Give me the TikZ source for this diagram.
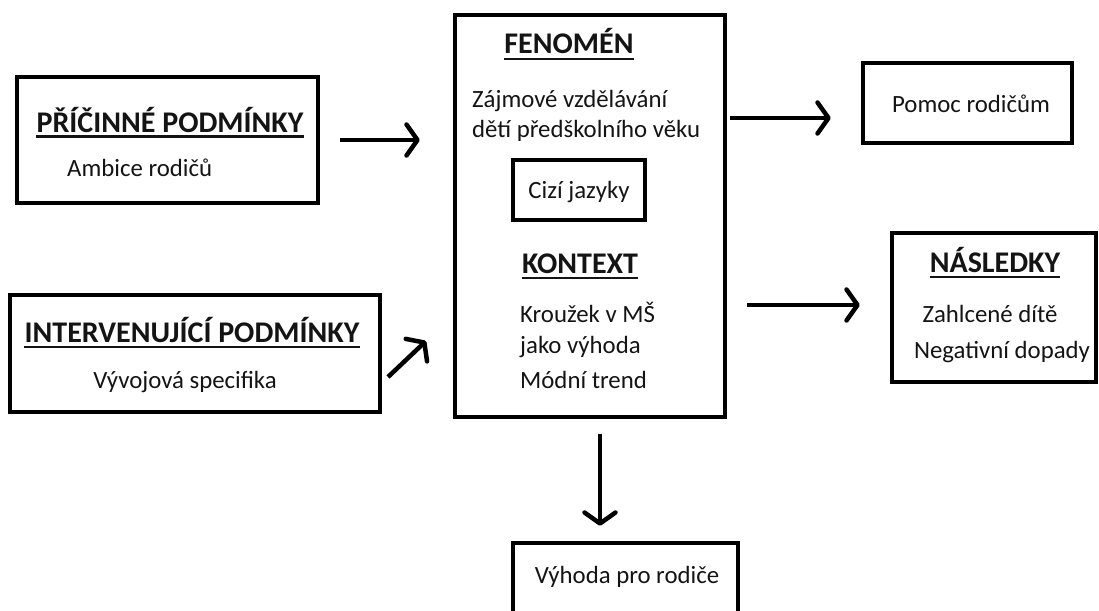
\documentclass[tikz,border=0pt]{standalone}
\usepackage{fontspec}
\setmainfont{Carlito}
\usetikzlibrary{arrows.meta}
\definecolor{ink}{RGB}{20,20,20}
\begin{document}
\begin{tikzpicture}[x=1pt,y=-1pt,
  box/.style={draw=black,line width=4.5pt,inner sep=0pt,fill=white},
  ttl/.style={inner sep=0pt,anchor=base,text=ink,font=\fontsize{30}{35}\selectfont\bfseries},
  txt/.style={inner sep=0pt,anchor=base,text=ink,font=\fontsize{24.8}{29}\selectfont},
  txtl/.style={txt,anchor=base west},
  uline/.style={draw=ink,line width=2.4pt},
  arr/.style={draw=black,line width=4.5pt,-{Straight Barb[length=11pt,width=31pt,round]}}]
\path[use as bounding box,clip] (0,0) rectangle (1099,610);
\fill[white] (0,0) rectangle (1099,610);

% boxes
\node[box,minimum width=301,minimum height=126] (b1) at (167.5,140) {};
\node[box,minimum width=370,minimum height=117] (b2) at (195,353.5) {};
\node[box,minimum width=270,minimum height=402] (big) at (590,216) {};
\node[box,minimum width=132,minimum height=60] (inner) at (579,190) {};
\node[box,minimum width=209,minimum height=80] (pom) at (967.5,103) {};
\node[box,minimum width=204,minimum height=149] (nas) at (994,307.5) {};
\node[box,minimum width=225,minimum height=100] (vyh) at (625.5,593) {};

% texts
\node[ttl] (t1) at (170,132) {PŘÍČINNÉ PODMÍNKY};
\draw[uline] ([yshift=-4.5pt]t1.base west) -- ([yshift=-4.5pt]t1.base east);
\node[txtl] (s1) at (67,176) {Ambice rodičů};

\node[ttl] (t2) at (192,342) {INTERVENUJÍCÍ PODMÍNKY};
\draw[uline] ([yshift=-5pt]t2.base west) -- ([yshift=-5pt]t2.base east);
\node[txt] (s2) at (185,388) {Vývojová specifika};

\node[ttl] (t3) at (569,53) {FENOMÉN};
\draw[uline] ([yshift=-6pt]t3.base west) -- ([yshift=-6pt]t3.base east);
\node[txtl] (f1) at (472,107) {Zájmové vzdělávání};
\node[txtl] (f2) at (472,137) {dětí předškolního věku};
\node[txt] (cj) at (579,198) {Cizí jazyky};
\node[ttl] (t4) at (580,273) {KONTEXT};
\draw[uline] ([yshift=-5pt]t4.base west) -- ([yshift=-5pt]t4.base east);
\node[txtl] (k1) at (520,322) {Kroužek v MŠ};
\node[txtl] (k2) at (520,353) {jako výhoda};
\node[txtl] (k3) at (520,388) {Módní trend};

\node[txt] (pt) at (971,112) {Pomoc rodičům};

\node[ttl] (t5) at (995,272) {NÁSLEDKY};
\draw[uline] ([yshift=-5pt]t5.base west) -- ([yshift=-5pt]t5.base east);
\node[txt] (n1) at (990,322) {Zahlcené dítě};
\node[txt] (n2) at (1002,358) {Negativní dopady};

\node[txt] (vt) at (627,583) {Výhoda pro rodiče};

% arrows
\coordinate (a2s) at (388,377);
\coordinate (a2e) at (426,341);
\draw[arr,shorten <=20pt,shorten >=33pt] (b1.east |- 0,140) -- (big.west |- 0,140);
\draw[arr] (a2s) -- (a2e);
\draw[arr,shorten <=3pt,shorten >=30pt] (big.east |- 0,118) -- (pom.west |- 0,118);
\draw[arr,shorten <=20pt,shorten >=30pt] (big.east |- 0,305) -- (nas.west |- 0,305);
\draw[arr,shorten <=15pt,shorten >=15pt] (big.south -| 600,0) -- (vyh.north -| 600,0);
\end{tikzpicture}
\end{document}
